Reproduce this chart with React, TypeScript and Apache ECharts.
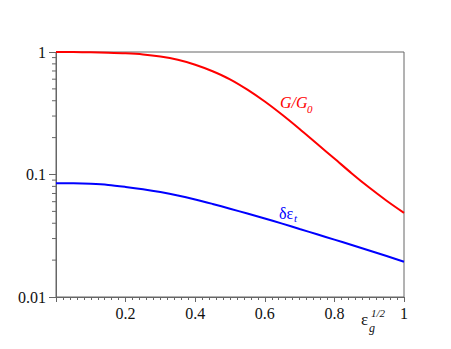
import React, { useEffect, useRef } from "react";
import * as echarts from "echarts";

const xValues = [0, 0.05, 0.1, 0.15, 0.2, 0.25, 0.3, 0.35, 0.4, 0.45, 0.5, 0.55, 0.6, 0.65, 0.7, 0.75, 0.8, 0.85, 0.9, 0.95, 1.0];
const ratioG = [1.0, 0.998, 0.994, 0.987, 0.976, 0.956, 0.919, 0.864, 0.788, 0.697, 0.599, 0.493, 0.394, 0.307, 0.235, 0.178, 0.135, 0.102, 0.0782, 0.0611, 0.0486];
const deltaEps = [0.085, 0.0848, 0.0839, 0.0822, 0.0792, 0.0758, 0.0719, 0.0675, 0.0626, 0.0575, 0.0526, 0.048, 0.0437, 0.0397, 0.0359, 0.0325, 0.0294, 0.0266, 0.024, 0.0216, 0.0194];
const xTickLabels = ["", "0.2", "0.4", "0.6", "0.8", "1"];
const yTickLabels: Record<string, string> = { "0.01": "0.01", "0.1": "0.1", "1": "1" };
const yMinorTicks = [0.02, 0.03, 0.04, 0.05, 0.06, 0.07, 0.08, 0.09, 0.2, 0.3, 0.4, 0.5, 0.6, 0.7, 0.8, 0.9];

const FONT = "Liberation Serif";
const AXIS = "#666666";

export default function App() {
  const ref = useRef<HTMLDivElement>(null);
  useEffect(() => {
    if (!ref.current) return;
    const chart = echarts.init(ref.current, null, { renderer: "svg" });
    chart.setOption({
      animation: false,
      backgroundColor: "#ffffff",
      textStyle: { fontFamily: FONT },
      grid: {
        left: 56,
        right: 47,
        top: 52,
        bottom: 52,
        show: true,
        borderColor: AXIS,
        borderWidth: 1,
        backgroundColor: "transparent",
      },
      xAxis: {
        type: "value",
        min: 0,
        max: 1,
        interval: 0.2,
        axisLine: { show: true, lineStyle: { color: AXIS, width: 1 } },
        axisTick: { show: true, length: 5, lineStyle: { color: AXIS } },
        minorTick: { show: true, splitNumber: 10, length: 3, lineStyle: { color: AXIS } },
        splitLine: { show: false },
        minorSplitLine: { show: false },
        axisLabel: {
          margin: 8,
          color: "#111",
          fontFamily: FONT,
          fontSize: 16,
          formatter: (v: number) => xTickLabels[Math.round(v / 0.2)] ?? "",
        },
      },
      yAxis: {
        type: "log",
        logBase: 10,
        min: 0.01,
        max: 1,
        axisLine: { show: true, lineStyle: { color: AXIS, width: 1 } },
        axisTick: { show: true, length: 7, lineStyle: { color: AXIS } },
        minorTick: { show: false },
        splitLine: { show: false },
        axisLabel: {
          margin: 10,
          color: "#111",
          fontFamily: FONT,
          fontSize: 16,
          formatter: (v: number) => {
            const k = String(+v.toPrecision(3));
            return yTickLabels[k] ?? k;
          },
        },
      },
      series: [
        {
          name: "G/G0",
          type: "line",
          data: xValues.map((x, i) => [x, ratioG[i]]),
          smooth: 0.3,
          showSymbol: false,
          lineStyle: { color: "#ff0000", width: 2 },
        },
        {
          name: "deps",
          type: "line",
          data: xValues.map((x, i) => [x, deltaEps[i]]),
          smooth: 0.3,
          showSymbol: false,
          lineStyle: { color: "#0000ff", width: 2 },
        },
        {
          name: "minorTicks",
          type: "custom",
          clip: false,
          silent: true,
          data: yMinorTicks.map((v) => [0, v]),
          renderItem: (params: any, api: any) => {
            const p = api.coord([api.value(0), api.value(1)]);
            return {
              type: "line",
              shape: { x1: p[0] - 4, y1: p[1], x2: p[0], y2: p[1] },
              style: { stroke: AXIS, lineWidth: 1 },
            };
          },
        },
      ],
      graphic: [
        { type: "text", x: 280, y: 102, style: { text: "G/G", fill: "#ff0000", fontFamily: FONT, fontStyle: "italic", fontSize: 16, verticalAlign: "middle" } },
        { type: "text", x: 307, y: 109, style: { text: "0", fill: "#ff0000", fontFamily: FONT, fontStyle: "italic", fontSize: 11, verticalAlign: "middle" } },
        { type: "text", x: 279, y: 213, style: { text: "δε", fill: "#0000ff", fontFamily: FONT, fontSize: 16, verticalAlign: "middle" } },
        { type: "text", x: 294, y: 218, style: { text: "t", fill: "#0000ff", fontFamily: FONT, fontStyle: "italic", fontSize: 11, verticalAlign: "middle" } },
        { type: "text", x: 361, y: 319, style: { text: "ε", fill: "#111", fontFamily: FONT, fontSize: 17, verticalAlign: "middle" } },
        { type: "text", x: 371, y: 313, style: { text: "1/2", fill: "#111", fontFamily: FONT, fontStyle: "italic", fontSize: 11, verticalAlign: "middle" } },
        { type: "text", x: 369, y: 328, style: { text: "g", fill: "#111", fontFamily: FONT, fontStyle: "italic", fontSize: 12, verticalAlign: "middle" } },
      ],
    });
    return () => chart.dispose();
  }, []);
  return <div ref={ref} style={{ position: "absolute", left: 0, top: 0, width: 451, height: 349 }} />;
}
